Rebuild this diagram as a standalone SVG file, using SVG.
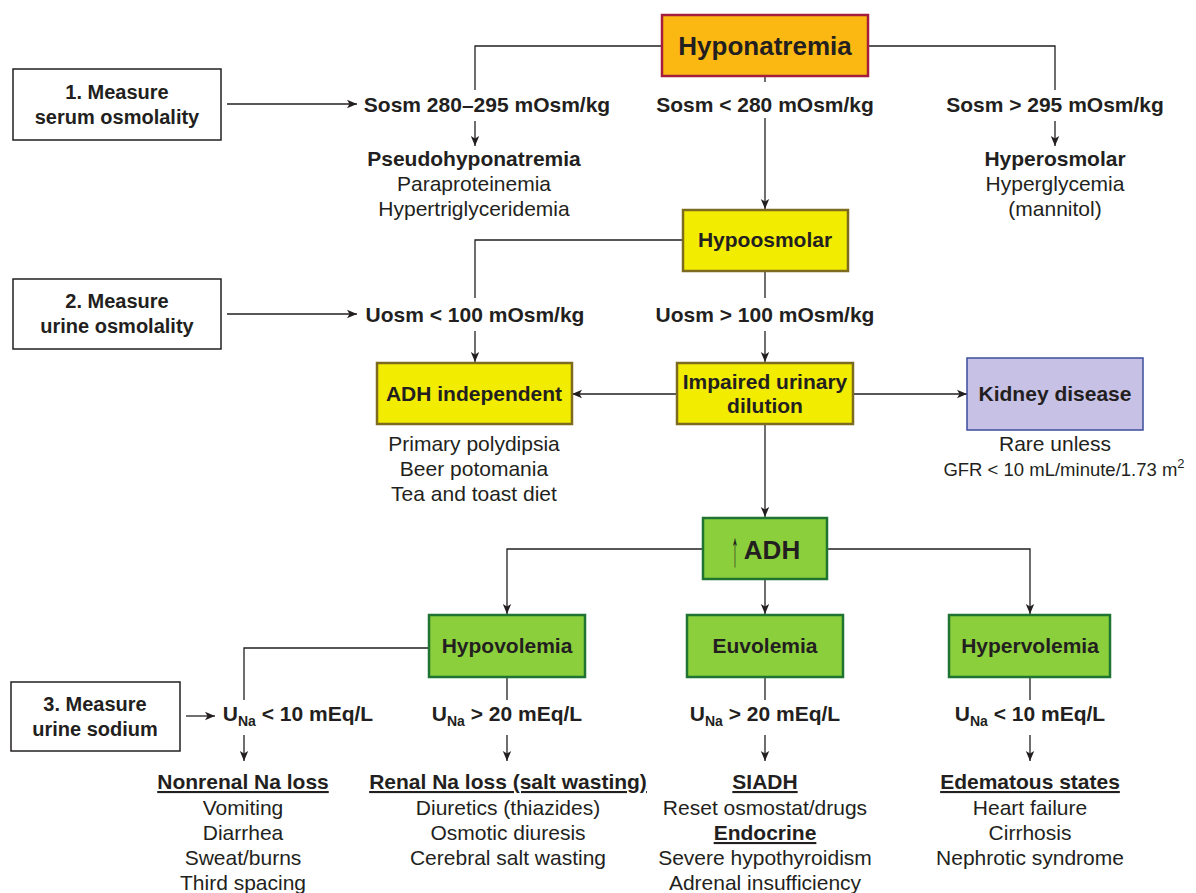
<svg xmlns="http://www.w3.org/2000/svg" width="1196" height="893" viewBox="0 0 1196 893">
<defs>
<marker id="ah" viewBox="0 0 10 10" refX="10" refY="5" markerWidth="10" markerHeight="10" markerUnits="userSpaceOnUse" orient="auto">
<path d="M0,0.8 L10,5 L0,9.2 L2.5,5 Z" fill="#231f20"/>
</marker>
<style>
text{font-family:"Liberation Sans",Arial,sans-serif;fill:#231f20;text-anchor:middle}
.b{font-weight:bold;font-size:21px}
.r{font-size:21px}
.k{font-size:18.5px}
.m{font-weight:bold;font-size:20px}
.t{font-weight:bold;font-size:26px}
.u{text-decoration:underline}
.sub{font-size:14px}
.ln{fill:none;stroke:#231f20;stroke-width:1.3}
.ar{fill:none;stroke:#231f20;stroke-width:1.3;marker-end:url(#ah)}
.mbox{fill:#fff;stroke:#231f20;stroke-width:1.5}
.yel{fill:#f2ec00;stroke:#7d6b20;stroke-width:2.5}
.grn{fill:#8bcf3c;stroke:#1e7430;stroke-width:2.5}
</style>
</defs>
<rect width="1196" height="893" fill="#fff"/>

<g id="connectors">
<path class="ln" d="M662,46 H475 V90"/>
<path class="ar" d="M475,121 V146"/>
<path class="ln" d="M867,46 H1055 V90"/>
<path class="ar" d="M1055,121 V146"/>
<path class="ln" d="M765,76 V82"/>
<path class="ar" d="M765,118 V209"/>
<path class="ar" d="M227,104 H357"/>
<path class="ln" d="M683,240 H475 V298"/>
<path class="ar" d="M475,331 V362"/>
<path class="ln" d="M765,271 V298"/>
<path class="ar" d="M765,331 V362"/>
<path class="ar" d="M227,314 H357"/>
<path class="ar" d="M677,394 H572"/>
<path class="ar" d="M853,394 H967"/>
<path class="ar" d="M765,424 V517"/>
<path class="ar" d="M703,549 H507 V614"/>
<path class="ar" d="M765,579 V614"/>
<path class="ar" d="M827,549 H1030 V614"/>
<path class="ln" d="M429,648 H244 V700"/>
<path class="ar" d="M244,735 V761"/>
<path class="ln" d="M507,677 V700"/>
<path class="ar" d="M507,735 V761"/>
<path class="ln" d="M765,677 V700"/>
<path class="ar" d="M765,735 V761"/>
<path class="ln" d="M1030,677 V700"/>
<path class="ar" d="M1030,735 V761"/>
<path class="ar" d="M186,716 H215"/>
</g>

<g id="hyponatremia">
<rect x="662" y="15" width="206" height="61" fill="#fbb812" stroke="#a61c3c" stroke-width="2.5"/>
<text class="t" x="765" y="55">Hyponatremia</text>
</g>

<g id="measure1">
<rect class="mbox" x="13" y="69" width="208" height="71"/>
<text class="m" x="117" y="99">1. Measure</text>
<text class="m" x="117" y="124">serum osmolality</text>
</g>

<g id="sosm-normal">
<text class="b" x="487" y="112">Sosm 280–295 mOsm/kg</text>
</g>
<g id="sosm-low">
<text class="b" x="765" y="112">Sosm &lt; 280 mOsm/kg</text>
</g>
<g id="sosm-high">
<text class="b" x="1055" y="112">Sosm &gt; 295 mOsm/kg</text>
</g>

<g id="pseudo">
<text class="b" x="474" y="166">Pseudohyponatremia</text>
<text class="r" x="474" y="191">Paraproteinemia</text>
<text class="r" x="474" y="216">Hypertriglyceridemia</text>
</g>

<g id="hyperosmolar">
<text class="b" x="1055" y="166">Hyperosmolar</text>
<text class="r" x="1055" y="191">Hyperglycemia</text>
<text class="r" x="1055" y="216">(mannitol)</text>
</g>

<g id="hypoosmolar">
<rect class="yel" x="683" y="210" width="165" height="61"/>
<text class="b" x="765" y="247">Hypoosmolar</text>
</g>

<g id="measure2">
<rect class="mbox" x="13" y="279" width="208" height="70"/>
<text class="m" x="117" y="308">2. Measure</text>
<text class="m" x="117" y="333">urine osmolality</text>
</g>

<g id="uosm-low">
<text class="b" x="475" y="322">Uosm &lt; 100 mOsm/kg</text>
</g>
<g id="uosm-high">
<text class="b" x="765" y="322">Uosm &gt; 100 mOsm/kg</text>
</g>

<g id="adh-independent">
<rect class="yel" x="377" y="363" width="195" height="61"/>
<text class="b" x="474" y="401">ADH independent</text>
<text class="r" x="474" y="451">Primary polydipsia</text>
<text class="r" x="474" y="476">Beer potomania</text>
<text class="r" x="474" y="501">Tea and toast diet</text>
</g>

<g id="impaired">
<rect class="yel" x="677" y="363" width="176" height="61"/>
<text class="b" x="765" y="389">Impaired urinary</text>
<text class="b" x="765" y="413">dilution</text>
</g>

<g id="kidney">
<rect x="967" y="358" width="176" height="72" fill="#c8c1e6" stroke="#3d4c9c" stroke-width="1.5"/>
<text class="b" x="1055" y="401">Kidney disease</text>
<text class="r" x="1055" y="451">Rare unless</text>
<text class="k" x="1064" y="476">GFR &lt; 10 mL/minute/1.73 m<tspan font-size="13px" dy="-8">2</tspan></text>
</g>

<g id="adh">
<rect class="grn" x="703" y="518" width="124" height="61"/>
<text transform="translate(735,566) scale(0.35,1.25)" x="0" y="0" font-family="DejaVu Sans, sans-serif" font-size="40px" fill="#231f20">↑</text>
<text class="t" x="772" y="559">ADH</text>
</g>

<g id="hypovolemia">
<rect class="grn" x="429" y="615" width="156" height="62"/>
<text class="b" x="507" y="653">Hypovolemia</text>
</g>
<g id="euvolemia">
<rect class="grn" x="687" y="615" width="156" height="62"/>
<text class="b" x="765" y="653">Euvolemia</text>
</g>
<g id="hypervolemia">
<rect class="grn" x="949" y="615" width="161" height="62"/>
<text class="b" x="1030" y="653">Hypervolemia</text>
</g>

<g id="measure3">
<rect class="mbox" x="11" y="682" width="169" height="69"/>
<text class="m" x="95" y="711">3. Measure</text>
<text class="m" x="95" y="736">urine sodium</text>
</g>

<g id="una-1">
<text class="b" x="298" y="721">U<tspan class="sub" dy="5">Na</tspan><tspan dy="-5"> &lt; 10 mEq/L</tspan></text>
</g>
<g id="una-2">
<text class="b" x="507" y="721">U<tspan class="sub" dy="5">Na</tspan><tspan dy="-5"> &gt; 20 mEq/L</tspan></text>
</g>
<g id="una-3">
<text class="b" x="765" y="721">U<tspan class="sub" dy="5">Na</tspan><tspan dy="-5"> &gt; 20 mEq/L</tspan></text>
</g>
<g id="una-4">
<text class="b" x="1030" y="721">U<tspan class="sub" dy="5">Na</tspan><tspan dy="-5"> &lt; 10 mEq/L</tspan></text>
</g>

<g id="nonrenal">
<text class="b u" x="243" y="789">Nonrenal Na loss</text>
<text class="r" x="243" y="815">Vomiting</text>
<text class="r" x="243" y="840">Diarrhea</text>
<text class="r" x="243" y="865">Sweat/burns</text>
<text class="r" x="243" y="890">Third spacing</text>
</g>
<g id="renal">
<text class="b u" x="508" y="789">Renal Na loss (salt wasting)</text>
<text class="r" x="508" y="815">Diuretics (thiazides)</text>
<text class="r" x="508" y="840">Osmotic diuresis</text>
<text class="r" x="508" y="865">Cerebral salt wasting</text>
</g>
<g id="siadh">
<text class="b u" x="765" y="789">SIADH</text>
<text class="r" x="765" y="815">Reset osmostat/drugs</text>
<text class="b u" x="765" y="840">Endocrine</text>
<text class="r" x="765" y="865">Severe hypothyroidism</text>
<text class="r" x="765" y="890">Adrenal insufficiency</text>
</g>
<g id="edematous">
<text class="b u" x="1030" y="789">Edematous states</text>
<text class="r" x="1030" y="815">Heart failure</text>
<text class="r" x="1030" y="840">Cirrhosis</text>
<text class="r" x="1030" y="865">Nephrotic syndrome</text>
</g>
</svg>
